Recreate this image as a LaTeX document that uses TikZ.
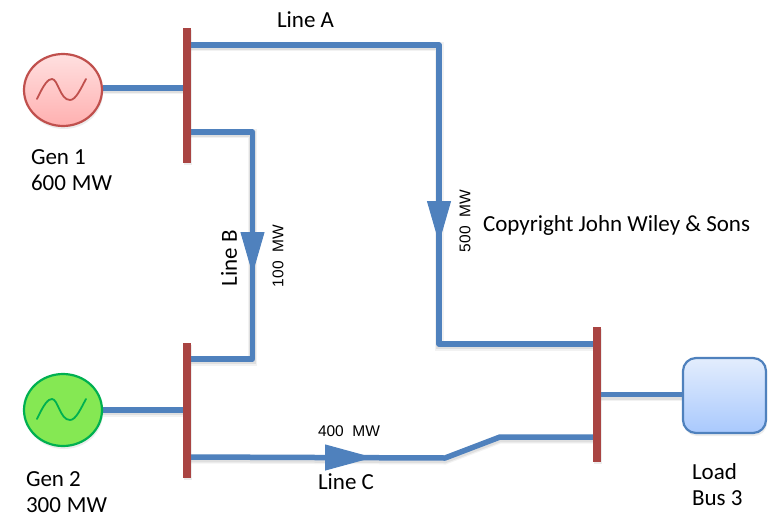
\documentclass[tikz,border=0pt]{standalone}
\usepackage{fontspec}
\setmainfont{Carlito}
\newfontfamily\smallface{Liberation Sans}
\usetikzlibrary{positioning,backgrounds,arrows.meta,shadows,shapes.geometric}
\definecolor{wire}{HTML}{4F81BD}
\definecolor{busred}{HTML}{A94442}
\definecolor{genredline}{HTML}{C0504D}
\definecolor{gengreen}{HTML}{85E853}
\definecolor{gengreenline}{HTML}{00B050}
\definecolor{loadtop}{HTML}{E3EDFD}
\definecolor{loadlow}{HTML}{A9C9FD}
\definecolor{redtop}{HTML}{FFE0E0}
\definecolor{redlow}{HTML}{FFB0B0}
\tikzset{
  softdrop/.style = {preaction={draw=black, draw opacity=0.05, line width=9pt, transform canvas={yshift=-2pt}},
                     preaction={draw=black, draw opacity=0.08, line width=6.5pt, transform canvas={yshift=-2pt}}},
  link/.style     = {draw=wire, line width=5.5pt, line join=round, softdrop},
  flow/.style     = {draw=wire, fill=wire, line width=1pt, -{Triangle[length=42pt,width=24pt]}},
  flowlong/.style = {draw=wire, fill=wire, line width=1pt, -{Triangle[length=48pt,width=26pt]}},
  bus/.style      = {draw=none, fill=busred, minimum width=8pt, minimum height=135pt, inner sep=0pt,
                     drop shadow={shadow xshift=1pt, shadow yshift=-2pt, opacity=0.15}},
  gen/.style      = {ellipse, line width=2.2pt, minimum width=78pt, minimum height=72pt, inner sep=0pt,
                     drop shadow={shadow xshift=1pt, shadow yshift=-3pt, opacity=0.15}},
  wave/.style     = {line width=1.8pt, line cap=round},
  loadbox/.style  = {draw=wire, line width=2.2pt, rounded corners=13pt, minimum width=83pt, minimum height=75pt,
                     inner sep=0pt, top color=loadtop, bottom color=loadlow,
                     drop shadow={shadow xshift=1pt, shadow yshift=-3pt, opacity=0.15}},
  lab/.style      = {font=\fontsize{23}{26}\selectfont, inner sep=0pt, outer sep=0pt, anchor=west, align=left},
  mw/.style       = {font=\fontsize{15.5}{17}\selectfont\smallface, inner sep=0pt, outer sep=0pt},
}

\begin{document}
\begin{tikzpicture}[x=1pt,y=1pt]
\useasboundingbox (0,0) rectangle (770,515);

% ---- buses and sources
\node[bus] (busone)   at (187,419.5) {};
\node[bus] (bustwo)   at (187,105) {};
\node[bus] (busthree) at (597,120.5) {};
\node[gen, draw=genredline, top color=redtop, bottom color=redlow] (genone) at (63,425) {};
\node[gen, draw=gengreenline, fill=gengreen] (gentwo) at (63,105) {};
\node[loadbox] (loadbus) at (724.5,119.5) {};

% ---- sine marks
\foreach \gen/\col in {genone/genredline, gentwo/gengreenline} {
  \draw[wave, draw=\col, shift={(\gen.center)}] (-26,-9) .. controls (-19,6) and (-15,11) .. (-11,11)
    .. controls (-5,11) and (-3,-10) .. (7,-10) .. controls (13,-10) and (18,2) .. (23,11);
}

% ---- corners of the lines
\coordinate (acorner) at (439,470);
\coordinate (dcorner) at (439,171);
\coordinate (bcorner) at (252.5,383);
\coordinate (ccorner) at (252.5,156);
\coordinate (elbowlow) at (445,57);
\coordinate (elbowhigh) at (500,78);

\begin{scope}[on background layer]
\draw[link] ([yshift=2pt]genone.east) -- ([yshift=2pt]genone.east -| busone.center);
\draw[link] (gentwo.east) -- (gentwo.east -| bustwo.center);
\draw[link] (busthree.center) -- (loadbus.west |- busthree.center);
\draw[link] (acorner -| busone.center) -- (acorner) -- (dcorner) -- (dcorner -| busthree.center);
\draw[link] (bcorner -| busone.center) -- (bcorner) -- (ccorner) -- (ccorner -| bustwo.center);
\draw[link] (bustwo.center |- 0,58) -- (elbowlow) -- (elbowhigh) -- (elbowhigh -| busthree.center);
\end{scope}

% ---- flow arrows
\coordinate (aflow) at (439,316);
\coordinate (atip)  at (439,272);
\coordinate (bflow) at (252.5,284);
\coordinate (btip)  at (252.5,241);
\coordinate (cflow) at (323,57.5);
\coordinate (ctip)  at (373,57.5);
\draw[flow] (aflow) -- (atip);
\draw[flow] (bflow) -- (btip);
\draw[flowlong] (cflow) -- (ctip);

% ---- labels
\node[lab] (genonelab) at (31,345) {Gen 1\\600\hspace{6pt}MW};
\node[lab] (gentwolab) at (26,23) {Gen 2\\300\hspace{6pt}MW};
\node[lab] (loadlab)   at (692,30) {Load\\Bus 3};
\node[lab] (linealab)  at (277,495) {Line A};
\node[lab] (lineclab)  at (318,33) {Line C};
\node[lab, rotate=90, anchor=center] (lineblab) at (229,257) {Line B};
\node[lab] (copylab)   at (483,290) {Copyright John Wiley \& Sons};
\node[mw, anchor=west] (cmw) at (318,84) {400\ \ MW};
\node[mw, rotate=90] (bmw) at (278,259) {100\ \ MW};
\node[mw, rotate=90] (amw) at (465,294) {500\ \ MW};

\end{tikzpicture}
\end{document}
